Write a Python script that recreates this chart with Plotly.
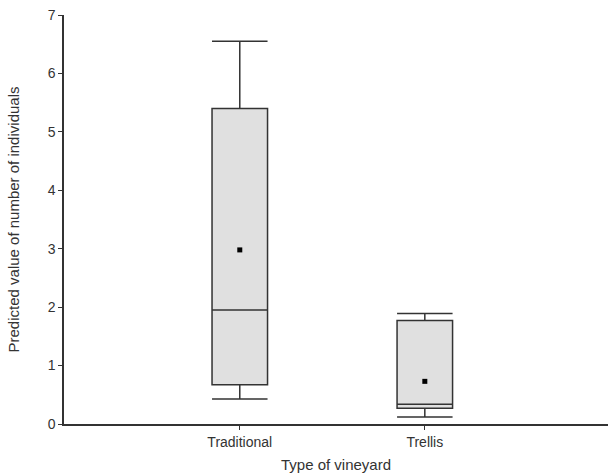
import plotly.graph_objects as go

categories = ["Traditional", "Trellis"]
lower_whisker = [0.43, 0.12]
q1_values = [0.67, 0.27]
median_values = [1.95, 0.34]
q3_values = [5.40, 1.77]
upper_whisker = [6.55, 1.89]
mean_values = [2.98, 0.73]

fig = go.Figure()
fig.add_trace(go.Box(
    x=categories,
    q1=q1_values,
    median=median_values,
    q3=q3_values,
    lowerfence=lower_whisker,
    upperfence=upper_whisker,
    boxpoints=False,
    fillcolor="#e0e0e0",
    line=dict(color="#333333", width=1.5),
    whiskerwidth=1,
    width=0.3,
    showlegend=False,
    hoverinfo="skip",
))
fig.add_trace(go.Scatter(
    x=categories,
    y=mean_values,
    mode="markers",
    marker=dict(symbol="square", size=5, color="black"),
    showlegend=False,
))

font = dict(family="Liberation Sans, Arial, sans-serif", size=14, color="#333333")
title_font = dict(family="Liberation Sans, Arial, sans-serif", size=15, color="#333333")
fig.update_layout(
    width=608, height=475,
    margin=dict(l=64, r=0, t=15, b=51),
    paper_bgcolor="white", plot_bgcolor="white",
    font=font,
    xaxis=dict(
        type="category",
        range=[-0.95, 1.99],
        automargin=False,
        showline=True, linecolor="#333333", linewidth=1.5,
        ticks="outside", ticklen=4, tickcolor="#333333",
        showgrid=False, zeroline=False,
        tickfont=font,
        title=dict(text="Type of vineyard", standoff=11, font=title_font),
    ),
    yaxis=dict(
        range=[0, 7.001],
        automargin=False,
        tickvals=[0, 1, 2, 3, 4, 5, 6, 7],
        showline=True, linecolor="#333333", linewidth=1.5,
        ticks="outside", ticklen=4, tickcolor="#333333",
        showgrid=False, zeroline=False,
        tickfont=font,
        title=dict(text="Predicted value of number of individuals", standoff=24, font=title_font),
    ),
)
fig.write_html(
    "out.html",
    config={"displayModeBar": False},
    post_script="document.body.style.margin='0';document.body.style.overflow='hidden';",
)
